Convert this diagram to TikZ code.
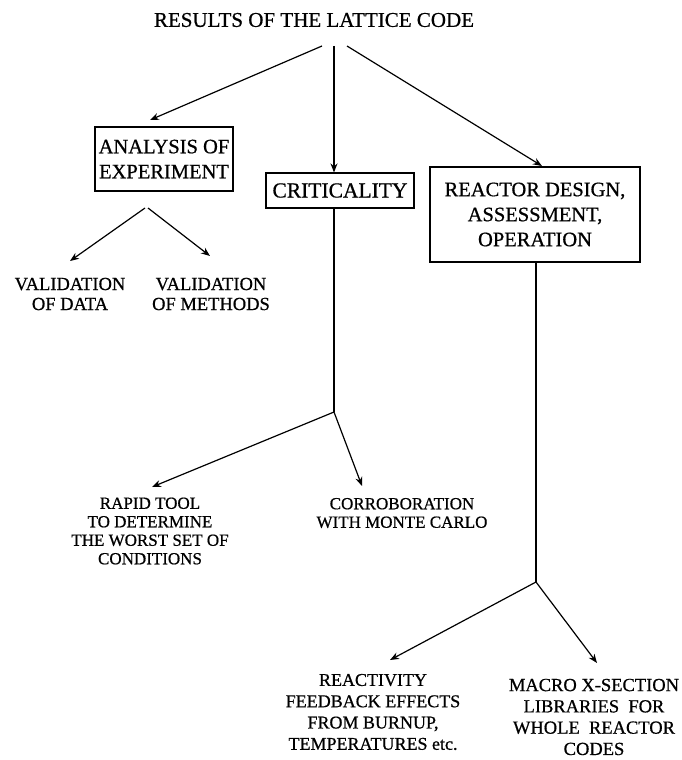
\documentclass[tikz,border=0pt]{standalone}
\usepackage{fontspec}
\setmainfont{Liberation Serif}[FakeBold=0.7]
\usetikzlibrary{arrows.meta}
\begin{document}
\begin{tikzpicture}[x=1pt,y=-1pt,
  box/.style={draw,line width=1.1pt,inner sep=0pt,align=center,font=\fontsize{20.5}{25}\selectfont},
  lbl/.style={inner sep=0pt,align=center,font=\fontsize{18.5}{20}\selectfont},
  arr/.style={line width=1.2pt,-{Stealth[length=9pt,width=7pt]}},
  ln/.style={line width=1.2pt}]
\useasboundingbox (0,0) rectangle (682,760);
\node[inner sep=0pt,font=\fontsize{21}{24}\selectfont] (title) at (314,20) {RESULTS OF THE LATTICE CODE};
\node[box,minimum width=138pt,minimum height=64pt] (ana) at (164,159) {ANALYSIS OF\\EXPERIMENT};
\node[box,minimum width=148pt,minimum height=35pt,font=\fontsize{21.5}{25}\selectfont] (crit) at (340,190.5) {CRITICALITY};
\node[box,minimum width=210pt,minimum height=95pt] (reac) at (535,214.5) {REACTOR DESIGN,\\ASSESSMENT,\\OPERATION};
\node[lbl] (vdata) at (70,294) {VALIDATION\\OF DATA};
\node[lbl] (vmeth) at (211,294) {VALIDATION\\OF METHODS};
\node[lbl,font=\fontsize{17}{18.5}\selectfont] (rapid) at (150,531) {RAPID TOOL\\TO DETERMINE\\THE WORST SET OF\\CONDITIONS};
\node[lbl,font=\fontsize{17}{18.5}\selectfont] (corr) at (402,513) {CORROBORATION\\WITH MONTE CARLO};
\node[lbl,font=\fontsize{18}{21.3}\selectfont] (react) at (373,712) {REACTIVITY\\FEEDBACK EFFECTS\\FROM BURNUP,\\TEMPERATURES etc.};
\node[lbl,font=\fontsize{18.5}{21.3}\selectfont] (macro) at (594,717) {MACRO X-SECTION\\LIBRARIES\ \ FOR\\WHOLE\ \ REACTOR\\CODES};
% coordinates
\coordinate (s1) at (322,46);
\coordinate (s2) at (334,46);
\coordinate (s3) at (347,46);
\coordinate (e1) at (150,120);
\coordinate (e3) at (542,166);
\coordinate (a1) at (145,208);
\coordinate (a2) at (148,208);
\coordinate (ev1) at (70,261);
\coordinate (ev2) at (210,256);
\coordinate (j1) at (334,412);
\coordinate (er) at (152,487);
\coordinate (ec) at (362,486);
\coordinate (j2) at (536,582);
\coordinate (ere) at (390,660);
\coordinate (em) at (597,663);
% connectors
\draw[arr] (s1) -- (e1);
\draw[arr] (s2) -- (s2 |- crit.north);
\draw[arr] (s3) -- (e3);
\draw[arr] (a1) -- (ev1);
\draw[arr] (a2) -- (ev2);
\draw[ln] (crit.south -| j1) -- (j1);
\draw[arr] (j1) -- (er);
\draw[arr] (j1) -- (ec);
\draw[ln] (reac.south -| j2) -- (j2);
\draw[arr] (j2) -- (ere);
\draw[arr] (j2) -- (em);
\end{tikzpicture}
\end{document}
